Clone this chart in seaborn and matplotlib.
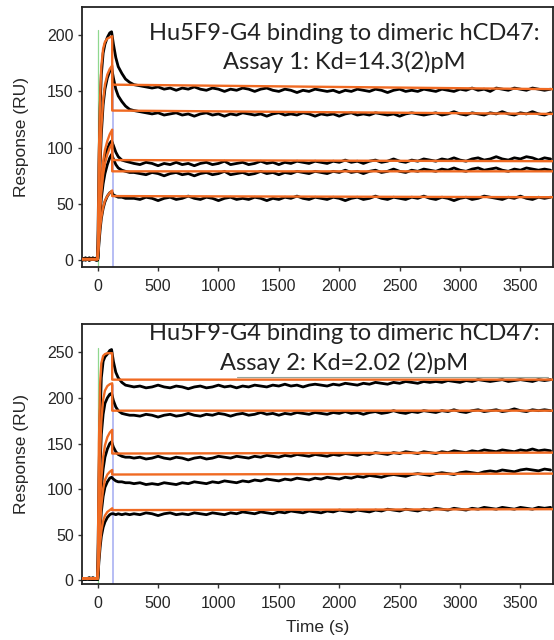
import numpy as np
import pandas as pd
import matplotlib
matplotlib.use('Agg')
import matplotlib.pyplot as plt
import seaborn as sns

# sampling times (s): association / early dissociation, then late dissociation every 50 s
t_early = [-130, -100, -70, -40, -10, 0, 10, 20, 30, 45, 60, 80, 100, 115, 130, 150, 170, 200, 230, 265]
t_late = list(range(300, 3751, 50))
times = t_early + t_late

# fitted model times (vertical drop at end of injection)
fit_times = [-130, 0, 10, 20, 30, 45, 60, 80, 100, 120, 120, 3770]

# ---- assay 1 sensorgrams (RU) ----
a1_c1 = [1, 2, 0, 2, 1, 1, 85, 135, 165, 184, 192, 198, 202, 203, 192, 180, 172, 166, 161, 158,
         156, 155, 154, 153, 154, 152, 153, 151, 153, 152, 154, 152, 151, 153, 152, 150, 152, 151, 153, 152,
         150, 152, 153, 151, 150, 152, 151, 149, 151, 150, 152, 151, 150, 151, 149, 151, 150, 152, 151, 150,
         152, 151, 149, 151, 152, 150, 151, 150, 152, 151, 150, 152, 151, 150, 152, 151, 153, 151, 152, 150,
         153, 152, 151, 153, 152, 151, 153, 152, 151, 152]
a1_c2 = [0, 1, 2, 1, 0, 1, 45, 85, 112, 138, 152, 162, 168, 171, 162, 152, 146, 141, 137, 134,
         133, 132, 131, 130, 131, 129, 130, 131, 129, 130, 128, 130, 131, 129, 130, 128, 130, 129, 131, 130,
         129, 130, 128, 130, 131, 129, 130, 129, 131, 130, 128, 130, 129, 130, 128, 130, 131, 129, 130, 129,
         131, 130, 129, 130, 128, 130, 131, 130, 129, 130, 131, 129, 130, 132, 130, 129, 131, 130, 129, 131,
         130, 132, 130, 129, 131, 130, 132, 130, 129, 131]
a1_c3 = [1, 0, 2, 1, 1, 0, 25, 48, 66, 82, 92, 99, 104, 106, 102, 96, 92, 89, 88, 87,
         86, 85, 87, 86, 84, 86, 85, 87, 85, 86, 84, 86, 87, 85, 86, 88, 85, 86, 87, 85,
         86, 88, 86, 87, 85, 87, 86, 88, 87, 86, 88, 87, 86, 88, 87, 89, 87, 88, 86, 88,
         89, 87, 88, 90, 88, 87, 89, 88, 90, 89, 88, 90, 89, 91, 89, 88, 90, 91, 89, 90,
         92, 90, 89, 91, 90, 92, 91, 89, 91, 90]
a1_c4 = [0, 1, 1, 2, 0, 1, 22, 40, 55, 68, 77, 85, 91, 94, 90, 85, 82, 80, 79, 78,
         78, 77, 76, 78, 77, 75, 77, 78, 76, 77, 75, 77, 78, 76, 77, 79, 76, 77, 78, 76,
         77, 79, 77, 78, 76, 78, 77, 79, 78, 77, 79, 78, 77, 79, 78, 80, 78, 79, 77, 79,
         80, 78, 79, 81, 79, 78, 80, 79, 81, 80, 79, 81, 80, 82, 80, 79, 81, 82, 80, 81,
         82, 80, 79, 81, 80, 82, 81, 80, 81, 80]
a1_c5 = [1, 2, 0, 1, 2, 1, 14, 27, 37, 46, 52, 57, 60, 61, 58, 57, 56, 56, 55, 55,
         55, 54, 56, 55, 53, 55, 56, 54, 55, 57, 55, 54, 56, 55, 53, 55, 56, 54, 55, 54,
         56, 55, 53, 55, 54, 56, 55, 57, 55, 54, 56, 55, 54, 56, 55, 53, 55, 56, 54, 55,
         57, 55, 54, 56, 55, 54, 56, 55, 57, 55, 54, 56, 55, 53, 55, 56, 54, 55, 57, 56,
         55, 54, 56, 55, 57, 55, 54, 56, 55, 56]

a1_f1 = [1, 1, 95, 145, 172, 188, 194, 197, 198, 199, 156, 152]
a1_f2 = [1, 1, 50, 90, 118, 142, 156, 165, 170, 173, 133, 130]
a1_f3 = [1, 1, 28, 52, 70, 88, 98, 106, 112, 116, 89, 88]
a1_f4 = [1, 1, 24, 44, 60, 76, 86, 94, 100, 104, 79, 79]
a1_f5 = [1, 1, 16, 29, 38, 47, 53, 57, 60, 62, 57, 56]

# ---- assay 2 sensorgrams (RU) ----
a2_c1 = [2, 1, 3, 1, 2, 1, 110, 180, 222, 240, 245, 248, 252, 253, 240, 228, 222, 217, 214, 213,
         212, 213, 211, 212, 214, 212, 211, 213, 212, 210, 212, 213, 211, 212, 214, 212, 213, 211, 213, 212,
         214, 213, 212, 214, 213, 215, 213, 214, 212, 214, 215, 214, 213, 215, 214, 216, 215, 214, 216, 215,
         217, 216, 215, 217, 216, 218, 217, 216, 218, 217, 218, 217, 219, 218, 217, 219, 218, 220, 219, 218,
         219, 220, 218, 219, 220, 219, 218, 220, 219, 220]
a2_c2 = [1, 2, 1, 3, 1, 2, 70, 125, 160, 182, 194, 200, 204, 205, 197, 190, 186, 183, 182, 181,
         181, 180, 182, 181, 179, 181, 182, 180, 181, 183, 181, 180, 182, 181, 183, 182, 180, 182, 183, 181,
         182, 184, 182, 183, 181, 183, 182, 184, 183, 182, 184, 183, 182, 184, 183, 185, 183, 184, 182, 184,
         185, 183, 184, 186, 184, 183, 185, 184, 186, 185, 184, 186, 185, 187, 185, 184, 186, 187, 185, 186,
         187, 185, 186, 188, 186, 185, 187, 186, 187, 186]
a2_c3 = [1, 2, 2, 1, 1, 2, 40, 75, 100, 122, 135, 144, 150, 152, 146, 141, 138, 136, 135, 135,
         134, 135, 133, 134, 136, 134, 133, 135, 134, 132, 134, 135, 133, 134, 136, 135, 134, 136, 135, 134,
         136, 135, 137, 136, 135, 137, 136, 138, 137, 136, 138, 137, 136, 138, 137, 139, 138, 137, 139, 138,
         140, 139, 138, 140, 139, 141, 140, 139, 141, 140, 139, 141, 140, 142, 141, 140, 142, 141, 143, 142,
         141, 143, 142, 141, 143, 142, 144, 142, 143, 142]
a2_c4 = [2, 1, 2, 1, 2, 1, 30, 55, 75, 92, 102, 108, 112, 113, 111, 109, 108, 108, 107, 107,
         106, 107, 105, 106, 105, 107, 106, 105, 107, 106, 108, 107, 106, 108, 107, 109, 108, 107, 109, 108,
         110, 109, 111, 110, 109, 111, 110, 112, 111, 110, 112, 111, 113, 112, 111, 113, 112, 114, 113, 115,
         114, 113, 115, 116, 115, 114, 116, 117, 116, 115, 117, 118, 117, 116, 118, 119, 118, 117, 119, 120,
         119, 121, 120, 119, 121, 122, 121, 120, 122, 121]
a2_c5 = [1, 2, 1, 1, 2, 1, 20, 36, 48, 58, 64, 69, 72, 73, 73, 72, 73, 72, 73, 72,
         73, 72, 74, 73, 71, 73, 74, 72, 73, 72, 74, 73, 72, 74, 73, 72, 74, 73, 75, 74,
         73, 75, 74, 73, 75, 74, 76, 75, 74, 76, 75, 74, 76, 75, 77, 76, 75, 77, 76, 75,
         77, 76, 78, 77, 76, 78, 77, 76, 78, 77, 79, 78, 77, 79, 78, 77, 79, 78, 80, 79,
         78, 80, 79, 78, 80, 79, 78, 80, 79, 80]

a2_f1 = [2, 2, 150, 215, 238, 246, 248, 249, 249, 249, 220, 220]
a2_f2 = [2, 2, 80, 140, 175, 198, 208, 213, 215, 216, 186, 186]
a2_f3 = [2, 2, 45, 85, 112, 135, 148, 157, 162, 165, 139, 140]
a2_f4 = [2, 2, 32, 60, 82, 100, 110, 116, 119, 121, 116, 117]
a2_f5 = [2, 2, 22, 40, 54, 65, 71, 75, 77, 79, 77, 78]

titles = [("Hu5F9-G4 binding to dimeric hCD47:", "Assay 1: Kd=14.3(2)pM"),
          ("Hu5F9-G4 binding to dimeric hCD47:", "Assay 2: Kd=2.02 (2)pM")]
xticks = [0, 500, 1000, 1500, 2000, 2500, 3000, 3500]
yticks = [[0, 50, 100, 150, 200], [0, 50, 100, 150, 200, 250]]
ylims = [(-6, 225), (-4, 281)]
peak_marks = [(205, 172), (255, 214)]  # top of injection-start / injection-end markers


def long_frame(t, curves):
    rows = []
    for i, vals in enumerate(curves):
        assert len(vals) == len(t), (i, len(vals), len(t))
        rows.append(pd.DataFrame({'time': t, 'resp': vals, 'curve': i}))
    return pd.concat(rows, ignore_index=True)


panels = [
    (long_frame(times, [a1_c1, a1_c2, a1_c3, a1_c4, a1_c5]),
     long_frame(fit_times, [a1_f1, a1_f2, a1_f3, a1_f4, a1_f5])),
    (long_frame(times, [a2_c1, a2_c2, a2_c3, a2_c4, a2_c5]),
     long_frame(fit_times, [a2_f1, a2_f2, a2_f3, a2_f4, a2_f5])),
]

sns.set_style('ticks')
plt.rcParams['font.family'] = ['Liberation Sans', 'DejaVu Sans']

fig = plt.figure(figsize=(5.54, 6.40), dpi=100)
W, H = 554, 640
axes = [fig.add_axes([82 / W, 1 - 267 / H, 471 / W, 260 / H]),
        fig.add_axes([82 / W, 1 - 584 / H, 471 / W, 260 / H])]

orange = '#f06a22'
for k, ax in enumerate(axes):
    data, fit = panels[k]
    top_green, top_blue = peak_marks[k]
    ax.plot([0, 0], [ylims[k][0], top_green], color='#8fd88f', lw=0.9, zorder=1)
    ax.plot([125, 125], [ylims[k][0], top_blue], color='#aab2f2', lw=1.2, zorder=1)
    sns.lineplot(data=data, x='time', y='resp', units='curve', estimator=None, sort=False,
                 color='black', lw=2.0, ax=ax, zorder=2)
    sns.lineplot(data=fit, x='time', y='resp', units='curve', estimator=None, sort=False,
                 color=orange, lw=1.7, ax=ax, zorder=3)
    ax.set_xlim(-130, 3770)
    ax.set_ylim(*ylims[k])
    ax.set_xticks(xticks)
    ax.set_yticks(yticks[k])
    ax.tick_params(axis='both', labelsize=11.5, length=3, width=1, color='#333333', direction='out')
    ax.tick_params(axis='x', pad=5.5)
    ax.tick_params(axis='y', pad=3)
    for s in ax.spines.values():
        s.set_linewidth(1.3)
        s.set_color('#222222')
    ax.set_ylabel('Response (RU)', fontsize=12.5)
    ax.yaxis.set_label_coords(-0.112, 0.5)
    ax.set_xlabel('')
    l1, l2 = titles[k]
    y1, y2 = (0.9, 0.788) if k == 0 else (0.962, 0.85)
    ax.text(0.556, y1, l1, transform=ax.transAxes, ha='center', va='center',
            fontsize=17, family=['Lato', 'DejaVu Sans'], color='#222222')
    ax.text(0.556, y2, l2, transform=ax.transAxes, ha='center', va='center',
            fontsize=17, family=['Lato', 'DejaVu Sans'], color='#222222')

# thin grey rule under the second assay label
axes[1].plot([1150, 3725], [223, 223], color='#9aa59a', lw=0.8, zorder=1)

axes[1].set_xlabel('Time (s)', fontsize=12.5)
axes[1].xaxis.set_label_coords(0.5, -0.14)

fig.savefig('out.png', dpi=100)
